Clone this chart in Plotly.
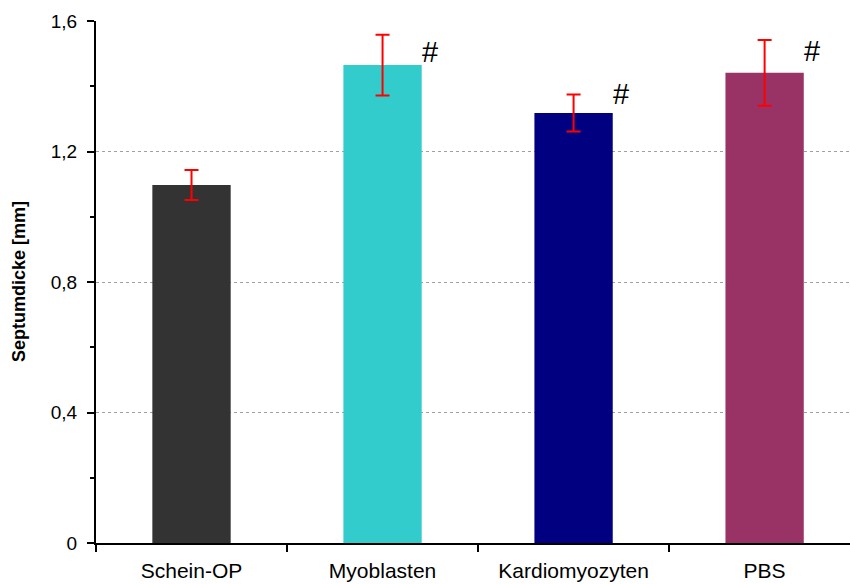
import plotly.graph_objects as go

# Septal thickness per treatment group (mean ± SD, mm)
groups = ["Schein-OP", "Myoblasten", "Kardiomyozyten", "PBS"]
septum_mm = [1.097, 1.465, 1.318, 1.441]
septum_sd = [0.046, 0.093, 0.057, 0.101]
significant = [False, True, True, True]

y_tickvals = [0, 0.4, 0.8, 1.2, 1.6]
y_ticktext = ["0", "0,4", "0,8", "1,2", "1,6"]

bar_colors = ["#333333", "#33CCCC", "#000080", "#993366"]
hash_yshift = [0, 13, 19, 22]

FONT = "Liberation Sans, Arial, sans-serif"

fig = go.Figure(
    go.Bar(
        x=groups,
        y=septum_mm,
        width=0.41,
        marker=dict(color=bar_colors, line=dict(width=0)),
        error_y=dict(type="data", array=septum_sd, visible=True,
                     color="#FF0000", thickness=2, width=7),
        showlegend=False,
    )
)

# "#" marks for significant groups
for i, (g, v, s) in enumerate(zip(groups, septum_mm, significant)):
    if s:
        fig.add_annotation(x=g, y=v, xref="x", yref="y", text="#",
                           showarrow=False, xshift=47, yshift=hash_yshift[i],
                           yanchor="middle", xanchor="center",
                           font=dict(family=FONT, size=29, color="black"))

fig.add_annotation(x=0, y=0.5, xref="paper", yref="paper",
                   text="<b>Septumdicke [mm]</b>", textangle=-90,
                   showarrow=False, xshift=-77, xanchor="center",
                   yanchor="middle",
                   font=dict(family=FONT, size=18, color="black"))

fig.update_layout(
    width=850, height=584,
    margin=dict(l=96, r=0, t=21, b=41),
    paper_bgcolor="white", plot_bgcolor="white",
    font=dict(family=FONT, color="black"),
    xaxis=dict(
        type="category",
        range=[-0.5, 3.447],
        showline=True, linecolor="black", linewidth=2,
        ticks="outside", ticklen=7, tickwidth=1.5, tickcolor="black",
        tickson="boundaries",
        tickfont=dict(family=FONT, size=21, color="black"),
        ticklabelstandoff=8,
        showgrid=False, zeroline=False,
    ),
    yaxis=dict(
        range=[0, 1.6],
        tickmode="array", tickvals=y_tickvals, ticktext=y_ticktext,
        showline=True, linecolor="black", linewidth=2,
        ticks="outside", ticklen=7, tickwidth=1.5, tickcolor="black",
        tickfont=dict(family=FONT, size=19, color="black"),
        ticklabelstandoff=6,
        showgrid=True, gridcolor="#A0A0A0", gridwidth=1, griddash="dot",
        minor=dict(tick0=0, dtick=0.2, ticks="outside", ticklen=4,
                   tickwidth=1.5, tickcolor="black", showgrid=False),
        zeroline=False,
    ),
)

fig.write_html("out.html")
